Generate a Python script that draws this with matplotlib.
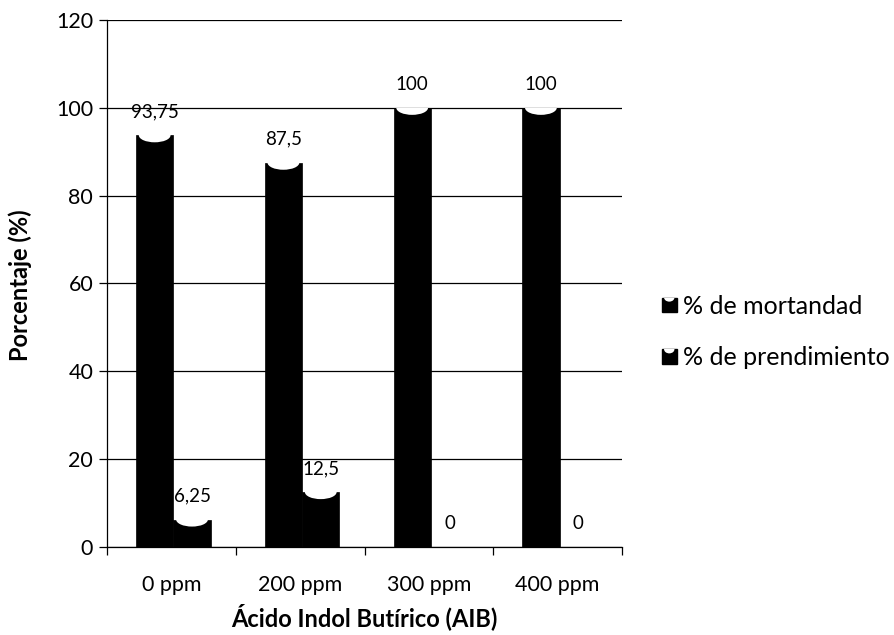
import matplotlib
matplotlib.use("Agg")
import matplotlib.pyplot as plt
import numpy as np
from matplotlib.patches import Ellipse, Rectangle
from matplotlib.legend_handler import HandlerPatch

plt.rcParams['font.family'] = ['Lato', 'DejaVu Sans']

categories = ['0 ppm', '200 ppm', '300 ppm', '400 ppm']
mortandad = [93.75, 87.5, 100, 100]
prendimiento = [6.25, 12.5, 0, 0]
mort_labels = ['93,75', '87,5', '100', '100']
prend_labels = ['6,25', '12,5', '0', '0']
series_names = ['% de mortandad', '% de prendimiento']
yticks = [0, 20, 40, 60, 80, 100, 120]

fig = plt.figure(figsize=(8.95, 6.35), dpi=100)
ax = fig.add_axes([0.1196, 0.1386, 0.5754, 0.8299])

x = np.arange(len(categories))
w = 0.29
ax.set_xlim(-0.5, len(categories) - 0.5)
ax.set_ylim(0, 120)

def draw_series(vals, labels, offset):
    bars = ax.bar(x + offset, vals, width=w, color='black', edgecolor='black', linewidth=0.5, zorder=3)
    for b, v, lab in zip(bars, vals, labels):
        cx = b.get_x() + b.get_width() / 2
        if v > 0:
            e = Ellipse((cx, v), width=w * 0.85, height=3.2, facecolor='white', edgecolor='none', zorder=4)
            ax.add_patch(e)
            e.set_clip_path(b)
        ax.annotate(lab, (cx, v), xytext=(0, 17), textcoords='offset points',
                    ha='center', va='center', fontsize=13.5, zorder=5)
    return bars

b1 = draw_series(mortandad, mort_labels, -w / 2 + 0.015)
b2 = draw_series(prendimiento, prend_labels, w / 2 + 0.015)

ax.set_yticks(yticks)
ax.yaxis.grid(True, color='black', linewidth=0.9, zorder=1)
ax.set_axisbelow(True)
ax.tick_params(axis='y', labelsize=15.5, length=6, width=0.9, color='black', pad=4)
ax.set_xticks(np.arange(-0.5, len(categories)), labels=[''] * (len(categories) + 1))
ax.set_xticks(x, labels=categories, minor=True)
ax.tick_params(axis='x', which='major', length=6, width=0.9)
ax.tick_params(axis='x', which='minor', length=0, labelsize=15.5, pad=20)
for s in ['top', 'right']:
    ax.spines[s].set_visible(False)
for s in ['left', 'bottom']:
    ax.spines[s].set_linewidth(0.9)

ax.set_ylabel('Porcentaje (%)', fontsize=17, fontweight='bold')
ax.set_xlabel('Ácido Indol Butírico (AIB)', fontsize=17, fontweight='bold')
ax.xaxis.set_label_coords(0.5, -0.133)
ax.xaxis.label.set_va('center')
ax.yaxis.set_label_coords(-0.169, 0.497)
ax.yaxis.label.set_va('center')


class HandlerCyl(HandlerPatch):
    def create_artists(self, legend, orig_handle, xdescent, ydescent, width, height, fontsize, trans):
        s = height * 0.85
        x0 = xdescent + width - s
        y0 = -ydescent + (height - s) / 2
        r = Rectangle((x0, y0), s, s, facecolor='black', edgecolor='black', transform=trans)
        e = Ellipse((x0 + s / 2, y0 + s), s * 0.7, s * 0.55, facecolor='white', edgecolor='none', transform=trans)
        e.set_clip_path(r)
        return [r, e]

leg = fig.legend([b1.patches[0], b2.patches[0]], series_names, loc='center left',
                 bbox_to_anchor=(0.71, 0.477), frameon=False, fontsize=18,
                 handler_map={b1.patches[0]: HandlerCyl(), b2.patches[0]: HandlerCyl()},
                 handlelength=0.75, handletextpad=0.25, labelspacing=1.15)

fig.savefig('out.png', dpi=100)
